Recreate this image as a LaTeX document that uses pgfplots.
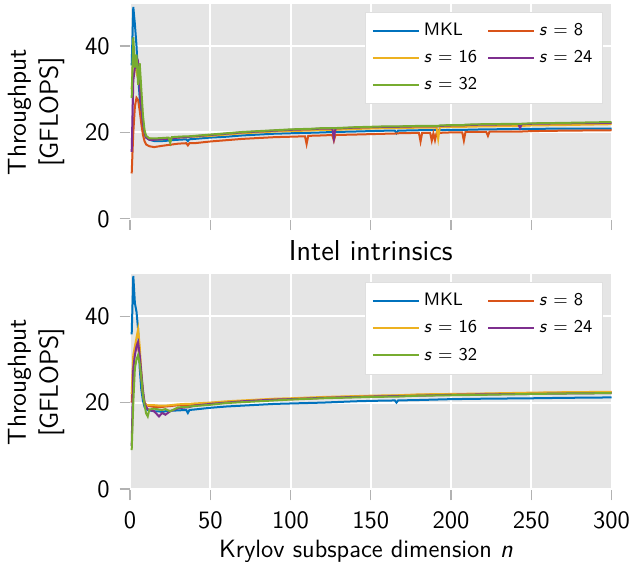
\documentclass[border=0pt]{standalone}
\usepackage{pgfplots}
\usepackage{pgfplotstable}
\pgfplotsset{compat=1.18}
\renewcommand{\familydefault}{\sfdefault}

\definecolor{bggray}{RGB}{229,229,229}
\definecolor{cMKL}{RGB}{0,114,189}
\definecolor{cEight}{RGB}{217,83,25}
\definecolor{cSixteen}{RGB}{237,177,32}
\definecolor{cTwentyFour}{RGB}{126,47,142}
\definecolor{cThirtyTwo}{RGB}{119,172,48}

% top panel
\pgfplotstableread{
n   mkl  s8   s16  s24  s32
1   35.5 10.5 30.0 15.5 28.0
2   49.0 20.0 38.0 32.0 42.0
3   45.0 26.0 36.0 35.0 35.0
4   40.0 28.0 34.0 35.0 38.0
5   33.0 27.5 36.0 36.0 31.0
6   28.0 25.0 34.0 30.0 36.0
7   24.0 22.0 28.0 26.0 30.0
8   21.0 19.5 23.0 22.0 24.0
9   19.5 18.0 20.0 20.0 20.5
10  18.8 17.2 19.0 18.8 19.2
12  18.3 16.8 18.6 18.3 18.6
15  18.0 16.6 18.4 18.3 18.6
20  18.0 16.9 18.4 18.5 18.7
24  18.1 17.1 18.6 18.5 18.8
25  18.1 17.1 18.6 18.5 17.6
26  18.2 17.2 18.7 18.6 18.9
30  18.3 17.4 18.8 18.8 19.0
35  18.4 17.5 18.9 18.9 19.1
36  18.0 17.0 18.9 18.9 19.1
37  18.4 17.5 19.0 19.0 19.1
40  18.5 17.5 19.0 19.1 19.2
50  18.8 17.9 19.2 19.4 19.5
60  19.0 18.2 19.5 19.7 19.8
70  19.3 18.5 19.8 20.0 20.1
80  19.5 18.7 20.0 20.2 20.3
90  19.7 18.9 20.2 20.4 20.5
100 19.8 19.0 20.3 20.6 20.7
109 19.9 19.1 20.4 20.7 20.8
110 19.9 17.3 20.4 20.7 20.8
111 19.9 19.2 20.4 20.7 20.8
120 20.0 19.3 20.6 20.9 21.0
126 20.1 19.4 20.6 20.9 21.0
127 20.1 18.1 20.6 18.6 21.0
128 20.1 19.4 20.6 20.9 21.0
140 20.2 19.5 20.8 21.1 21.2
150 20.3 19.6 20.9 21.2 21.3
160 20.4 19.7 21.0 21.3 21.4
165 20.4 19.7 21.0 21.3 21.4
166 19.8 19.8 21.0 21.3 21.4
167 20.4 19.8 21.0 21.3 21.4
180 20.5 19.9 21.1 21.4 21.5
181 20.5 17.9 21.1 21.4 21.5
182 20.5 19.9 21.1 21.4 21.5
187 20.5 19.9 21.1 21.4 21.5
188 20.5 18.1 21.1 21.4 21.5
189 20.5 19.8 21.1 21.4 21.5
190 20.5 18.2 21.1 21.4 21.5
191 20.5 19.9 21.1 21.4 21.5
192 20.5 19.9 18.5 21.4 21.5
193 20.5 19.9 21.2 21.5 21.6
200 20.6 20.0 21.3 21.6 21.7
207 20.6 20.0 21.3 21.6 21.7
208 20.6 18.1 21.3 21.6 21.7
209 20.6 20.1 21.3 21.7 21.8
220 20.7 20.1 21.4 21.8 21.9
222 20.7 20.1 21.4 21.8 21.9
223 20.7 19.2 21.4 21.8 21.9
224 20.7 20.2 21.4 21.8 21.9
240 20.8 20.2 21.5 21.9 22.0
242 20.8 20.2 21.5 21.9 22.0
243 20.8 20.2 21.5 21.0 22.0
244 20.8 20.2 21.5 21.9 22.0
250 20.8 20.3 21.6 22.0 22.1
270 20.9 20.4 21.7 22.1 22.2
300 20.9 20.5 21.9 22.2 22.4
}\toptable

% bottom panel
\pgfplotstableread{
n   mkl  s8   s16  s24  s32
1   35.8 20.0 22.0 10.0 9.0
2   49.3 29.0 31.0 28.0 20.0
3   43.0 32.0 33.0 31.0 28.0
4   41.0 34.0 35.0 33.0 30.0
5   37.0 33.0 37.0 34.0 31.0
6   28.0 30.0 33.0 31.0 29.0
7   23.0 26.0 27.0 27.0 26.0
8   20.5 22.0 22.0 23.0 22.0
9   19.0 20.0 20.0 20.0 19.5
10  18.5 19.5 19.5 19.0 17.5
11  18.3 19.3 19.4 18.5 16.8
12  18.2 19.2 19.4 18.3 18.4
15  18.0 19.0 19.4 18.0 18.6
18  18.0 19.0 19.3 16.8 18.4
20  17.8 19.0 19.3 17.6 18.3
22  18.0 19.1 19.3 17.2 18.5
25  18.1 19.2 19.4 18.0 18.0
30  18.2 19.4 19.6 18.7 18.9
35  18.3 19.5 19.7 18.9 19.0
36  17.6 19.3 19.7 18.9 19.0
37  18.3 19.5 19.7 19.0 19.1
40  18.4 19.6 19.8 19.3 19.2
50  18.8 19.9 20.0 19.7 19.5
60  19.1 20.1 20.3 20.0 19.9
70  19.3 20.3 20.5 20.3 20.1
80  19.5 20.5 20.7 20.5 20.3
90  19.7 20.7 20.9 20.7 20.5
100 19.8 20.8 21.0 20.8 20.7
120 20.0 21.1 21.3 21.1 21.0
140 20.3 21.4 21.5 21.3 21.2
150 20.4 21.5 21.6 21.4 21.3
165 20.5 21.6 21.7 21.5 21.4
166 20.0 21.6 21.7 21.5 21.4
167 20.5 21.6 21.7 21.5 21.4
180 20.6 21.8 21.9 21.6 21.6
200 20.8 21.9 22.0 21.8 21.7
220 20.9 22.0 22.1 21.9 21.8
250 21.0 22.2 22.3 22.0 22.0
270 21.1 22.3 22.4 22.1 22.1
300 21.2 22.4 22.5 22.2 22.2
}\bottable

\pgfplotsset{
  panel/.style={
    scale only axis,
    width=241pt, height=108pt,
    xmin=-0.3, xmax=300.3, ymin=-0.3, ymax=49.7,
    xtick={0,50,...,300}, ytick={0,20,40},
    axis background/.style={fill=bggray},
    grid=major,
    major grid style={white, line width=1pt},
    axis line style={draw=none},
    tick pos=left,
    tick align=outside,
    major tick length=5pt,
    tick style={gray!60, line width=0.6pt},
    /pgf/number format/assume math mode=true,
    font=\fontsize{12.5}{15}\selectfont,
    xticklabel style={yshift=-2pt},
    yticklabel style={xshift=-1.5pt},
    ylabel={Throughput\\{[GFLOPS]}},
    ylabel style={align=center, font=\fontsize{13}{16}\selectfont,
      at={(axis description cs:-0.1203,0.5)}, anchor=south},
    legend columns=2,
    legend cell align=left,
    legend style={at={(0.981,0.965)}, anchor=north east, draw=gray!25,
      fill=white, inner xsep=3pt, inner ysep=3.5pt, row sep=2pt,
      font=\fontsize{9}{11}\selectfont,
      /tikz/every even column/.append style={column sep=3pt}},
    legend image code/.code={\draw[#1] (0pt,0pt) -- (23pt,0pt);},
    every axis plot/.append style={line width=1pt, no markers},
  }
}

\begin{document}
\begin{tikzpicture}
\begin{axis}[panel, name=top, xticklabels={},
    xlabel={Intel intrinsics},
    xlabel style={font=\fontsize{14.4}{17}\selectfont,
      at={(axis description cs:0.5,0)}, anchor=base, yshift=-20pt}]
  \addplot[cMKL] table[x=n, y=mkl] {\toptable};
  \addlegendentry{MKL}
  \addplot[cEight] table[x=n, y=s8] {\toptable};
  \addlegendentry{\textit{s} = 8}
  \addplot[cSixteen] table[x=n, y=s16] {\toptable};
  \addlegendentry{\textit{s} = 16}
  \addplot[cTwentyFour] table[x=n, y=s24] {\toptable};
  \addlegendentry{\textit{s} = 24}
  \addplot[cThirtyTwo] table[x=n, y=s32] {\toptable};
  \addlegendentry{\textit{s} = 32}
\end{axis}

\begin{axis}[panel, name=bot, at={(top.south west)}, anchor=north west,
    yshift=-27pt,
    xlabel={Krylov subspace dimension \textit{n}},
    xlabel style={at={(axis description cs:0.49,0)}, anchor=base,
      yshift=-33.5pt}]
  \addplot[cMKL] table[x=n, y=mkl] {\bottable};
  \addlegendentry{MKL}
  \addplot[cEight] table[x=n, y=s8] {\bottable};
  \addlegendentry{\textit{s} = 8}
  \addplot[cSixteen] table[x=n, y=s16] {\bottable};
  \addlegendentry{\textit{s} = 16}
  \addplot[cTwentyFour] table[x=n, y=s24] {\bottable};
  \addlegendentry{\textit{s} = 24}
  \addplot[cThirtyTwo] table[x=n, y=s32] {\bottable};
  \addlegendentry{\textit{s} = 32}
\end{axis}

\pgfresetboundingbox
\path ([xshift=-64.75pt, yshift=2pt]top.north west)
  rectangle ([xshift=10pt, yshift=-35.5pt]bot.south east);
\end{tikzpicture}
\end{document}
